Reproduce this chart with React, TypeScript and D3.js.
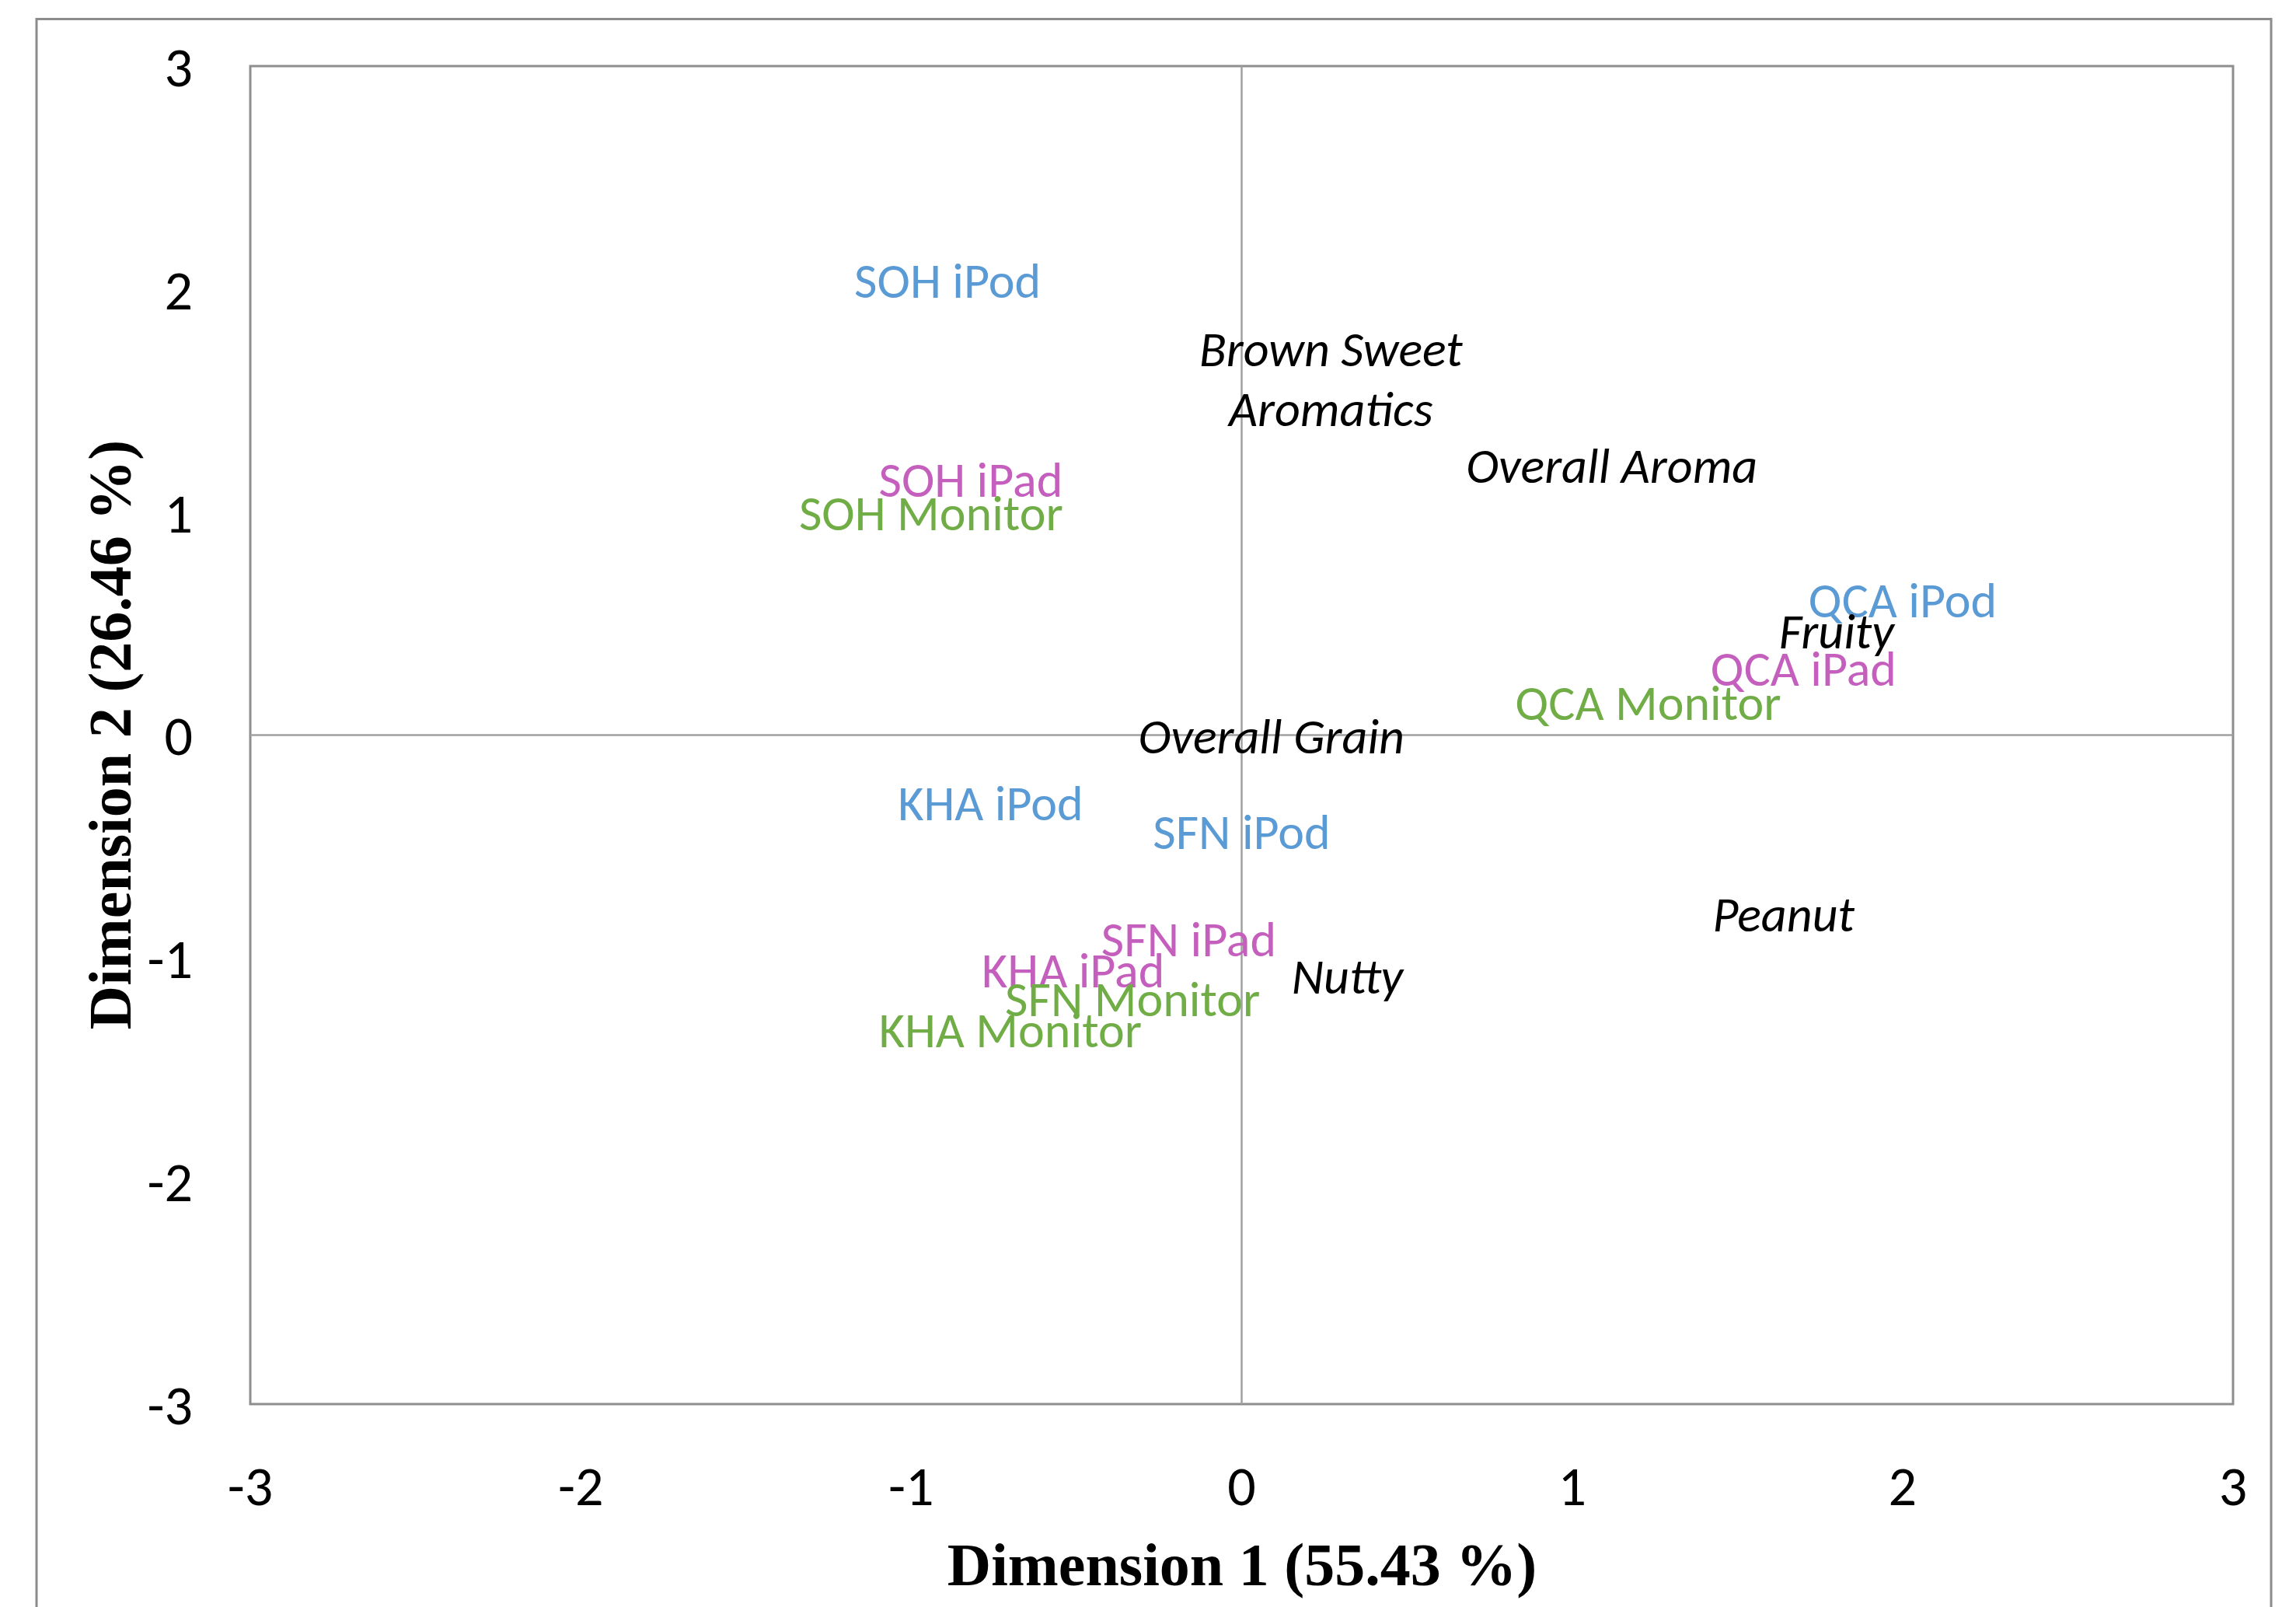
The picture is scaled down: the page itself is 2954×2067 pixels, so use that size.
import * as d3 from "d3";
import React, { useEffect } from "react";

// label text, dimension 1, dimension 2, group
const labels = [
	"SOH iPod",
	"Brown Sweet\nAromatics",
	"Overall Aroma",
	"SOH iPad",
	"SOH Monitor",
	"QCA iPod",
	"Fruity",
	"QCA iPad",
	"QCA Monitor",
	"Overall Grain",
	"KHA iPod",
	"SFN iPod",
	"Peanut",
	"SFN iPad",
	"KHA iPad",
	"Nutty",
	"SFN Monitor",
	"KHA Monitor",
];
const dim1 = [
	-0.89, 0.27, 1.12, -0.82, -0.94, 2.0, 1.8, 1.7, 1.23, 0.09, -0.76, 0.0,
	1.64, -0.16, -0.51, 0.32, -0.33, -0.7,
];
const dim2 = [
	2.04, 1.6, 1.21, 1.15, 1.0, 0.61, 0.47, 0.3, 0.15, 0.0, -0.3, -0.43, -0.8,
	-0.91, -1.05, -1.08, -1.18, -1.32,
];
const groups = [
	"iPod", "attr", "attr", "iPad", "Monitor", "iPod", "attr", "iPad",
	"Monitor", "attr", "iPod", "iPod", "attr", "iPad", "iPad", "attr",
	"Monitor", "Monitor",
];
const xTicks = [-3, -2, -1, 0, 1, 2, 3];
const yTicks = [-3, -2, -1, 0, 1, 2, 3];

const groupColor: Record<string, string> = {
	iPod: "#5b9bd5",
	iPad: "#c55fbe",
	Monitor: "#70ad47",
	attr: "#000000",
};

const W = 2954;
const H = 2067;
const plot = { left: 322, right: 2873, top: 85, bottom: 1806 };
const labelFont = "Carlito, Lato, 'Open Sans', sans-serif";

export default function App() {
	useEffect(() => {
		document.body.style.margin = "0";
	}, []);

	const x = d3.scaleLinear().domain([-3, 3]).range([plot.left, plot.right]);
	const y = d3.scaleLinear().domain([-3, 3]).range([plot.bottom, plot.top]);

	return (
		<svg width={W} height={H} style={{ display: "block", background: "#fff" }}>
			{/* outer frame */}
			<path
				d={`M47,${H} L47,24.5 L2922,24.5 L2922,${H}`}
				fill="none"
				stroke="#8c8c8c"
				strokeWidth={3}
			/>
			<rect
				x={plot.left}
				y={plot.top}
				width={plot.right - plot.left}
				height={plot.bottom - plot.top}
				fill="none"
				stroke="#8e8e8e"
				strokeWidth={3}
			/>
			<line x1={x(0)} x2={x(0)} y1={plot.top} y2={plot.bottom} stroke="#a0a0a0" strokeWidth={2.5} />
			<line x1={plot.left} x2={plot.right} y1={y(0)} y2={y(0)} stroke="#a0a0a0" strokeWidth={2.5} />

			{yTicks.map((t) => (
				<text
					key={"y" + t}
					x={248}
					y={y(t)}
					dy="0.36em"
					textAnchor="end"
					fontFamily={labelFont}
					fontSize={72}
					fill="#000"
				>
					{t}
				</text>
			))}
			{xTicks.map((t) => (
				<text
					key={"x" + t}
					x={x(t)}
					y={1910}
					dy="0.36em"
					textAnchor="middle"
					fontFamily={labelFont}
					fontSize={72}
					fill="#000"
				>
					{t}
				</text>
			))}

			{labels.map((lab, i) => {
				const lines = lab.split("\n");
				const lh = 77;
				const cy = y(dim2[i]) - ((lines.length - 1) * lh) / 2;
				return (
					<text
						key={lab}
						x={x(dim1[i])}
						y={cy}
						textAnchor="middle"
						fontFamily={labelFont}
						fontSize={64}
						fontStyle={groups[i] === "attr" ? "italic" : "normal"}
						fill={groupColor[groups[i]]}
					>
						{lines.map((l, j) => (
							<tspan key={j} x={x(dim1[i])} dy={j === 0 ? "0.36em" : lh}>
								{l}
							</tspan>
						))}
					</text>
				);
			})}

			<text
				x={1598}
				y={2039}
				textAnchor="middle"
				fontFamily="'Liberation Serif', 'Times New Roman', serif"
				fontWeight="bold"
				fontSize={78}
				fill="#000"
			>
				Dimension 1 (55.43 %)
			</text>
			<text
				transform={`translate(168,945) rotate(-90)`}
				textAnchor="middle"
				fontFamily="'Liberation Serif', 'Times New Roman', serif"
				fontWeight="bold"
				fontSize={78}
				fill="#000"
			>
				Dimension 2 (26.46 %)
			</text>
		</svg>
	);
}
